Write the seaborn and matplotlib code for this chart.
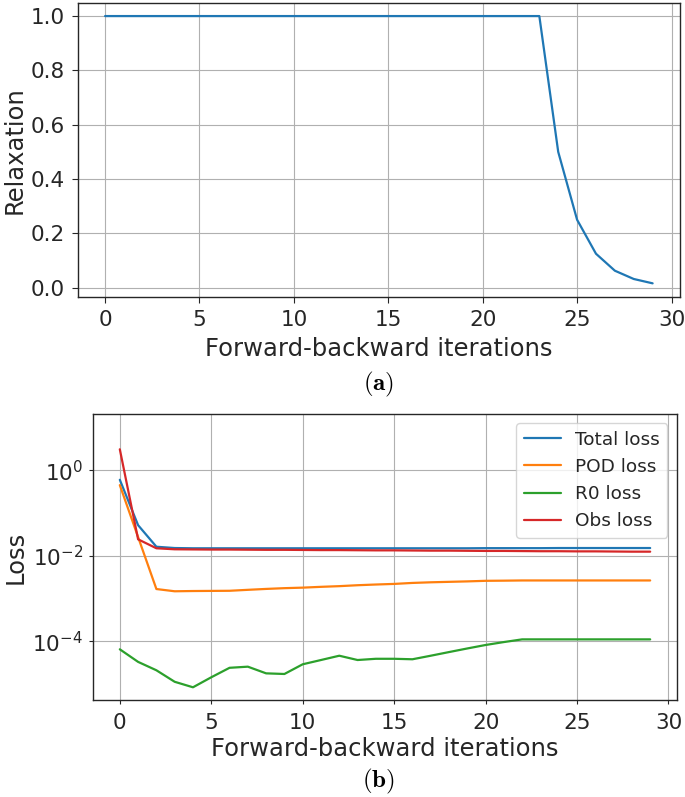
import numpy as np
import pandas as pd
import matplotlib
matplotlib.use("Agg")
import matplotlib.pyplot as plt
import matplotlib.ticker as mticker
import seaborn as sns

# ---------------- data ----------------
iterations = list(range(30))

relaxation = [1.0, 1.0, 1.0, 1.0, 1.0, 1.0, 1.0, 1.0, 1.0, 1.0,
              1.0, 1.0, 1.0, 1.0, 1.0, 1.0, 1.0, 1.0, 1.0, 1.0,
              1.0, 1.0, 1.0, 1.0, 0.5, 0.25, 0.125, 0.0625, 0.032, 0.016]

total_loss = [0.6, 0.052, 0.0163, 0.0152, 0.015, 0.015, 0.015, 0.015, 0.015, 0.015,
              0.015, 0.015, 0.015, 0.015, 0.015, 0.015, 0.015, 0.015, 0.015, 0.015,
              0.0151, 0.0151, 0.0151, 0.0151, 0.0152, 0.0152, 0.0152, 0.0152, 0.0152, 0.0152]

pod_loss = [0.45, 0.0274, 0.00167, 0.00148, 0.0015, 0.00151, 0.00152, 0.0016, 0.00168, 0.00175,
            0.0018, 0.00188, 0.00195, 0.00205, 0.00213, 0.0022, 0.00232, 0.0024, 0.00246, 0.00252,
            0.0026, 0.00262, 0.00265, 0.00265, 0.00265, 0.00265, 0.00265, 0.00265, 0.00265, 0.00265]

r0_loss = [6.5e-5, 3.3e-5, 2.1e-5, 1.13e-5, 8.4e-6, 1.44e-5, 2.4e-5, 2.55e-5, 1.78e-5, 1.72e-5,
           2.9e-5, 3.65e-5, 4.6e-5, 3.65e-5, 3.9e-5, 3.9e-5, 3.8e-5, 4.6e-5, 5.6e-5, 6.8e-5,
           8.2e-5, 9.6e-5, 1.11e-4, 1.11e-4, 1.11e-4, 1.11e-4, 1.11e-4, 1.11e-4, 1.11e-4, 1.11e-4]

obs_loss = [3.1, 0.0243, 0.015, 0.0142, 0.0141, 0.014, 0.014, 0.0139, 0.0138, 0.0138,
            0.0137, 0.0136, 0.0136, 0.0135, 0.0134, 0.0134, 0.0133, 0.0132, 0.0132, 0.0131,
            0.013, 0.013, 0.0129, 0.0128, 0.0128, 0.0127, 0.0127, 0.0126, 0.0125, 0.0125]

loss_labels = ["Total loss", "POD loss", "R0 loss", "Obs loss"]
x_ticks = [0, 5, 10, 15, 20, 25, 30]
relax_ticks = [0.0, 0.2, 0.4, 0.6, 0.8, 1.0]
loss_ticks = [1e-4, 1e-2, 1e0]

# ---------------- style ----------------
sns.set_theme(style="ticks")
plt.rcParams["font.family"] = ["DejaVu Sans"]
plt.rcParams["mathtext.fontset"] = "dejavusans"
colors = ["#1f77b4", "#ff7f0e", "#2ca02c", "#d62728"]
INK = "#262626"

W, H = 685, 797
fig = plt.figure(figsize=(W / 100, H / 100), dpi=100)


def px_axes(l, t, r, b):
    return fig.add_axes([l / W, 1 - b / H, (r - l) / W, (b - t) / H])


def style_axis(ax, tlen, xpad, ypad):
    ax.grid(True, color="#b0b0b0", linewidth=0.8)
    ax.set_axisbelow(True)
    for s in ax.spines.values():
        s.set_color(INK)
        s.set_linewidth(1.0)
    ax.tick_params(axis="both", which="major", labelsize=15.5, length=tlen,
                   width=0.8, color=INK, labelcolor=INK, direction="out")
    ax.tick_params(axis="x", pad=xpad)
    ax.tick_params(axis="y", pad=ypad)


# ---------------- top panel ----------------
ax1 = px_axes(77.7, 2.7, 680, 296.7)
df1 = pd.DataFrame({"it": iterations, "relax": relaxation})
sns.lineplot(data=df1, x="it", y="relax", ax=ax1, color=colors[0], linewidth=1.6)
ax1.set_xlim(-1.45, 30.45)
ax1.set_xticks(x_ticks)
ax1.set_yticks(relax_ticks)
ax1.yaxis.set_major_formatter(mticker.FormatStrFormatter("%.1f"))
ax1.set_xlabel("Forward-backward iterations", fontsize=17.5, color=INK, labelpad=5)
ax1.set_ylabel("Relaxation", fontsize=17.5, color=INK)
ax1.yaxis.set_label_coords(-0.084, 0.5)
style_axis(ax1, 4.3, 5.0, 5.0)

# ---------------- bottom panel ----------------
ax2 = px_axes(93.3, 414, 676.7, 700.3)
series = [total_loss, pod_loss, r0_loss, obs_loss]
for vals, lab, col in zip(series, loss_labels, colors):
    sns.lineplot(x=iterations, y=vals, ax=ax2, color=col, linewidth=1.6, label=lab)
ax2.set_yscale("log")
ax2.set_xlim(-1.45, 30.45)
ax2.set_ylim(10 ** -5.38, 10 ** 1.317)
ax2.set_xticks(x_ticks)
ax2.yaxis.set_major_locator(mticker.FixedLocator(loss_ticks))
ax2.yaxis.set_major_formatter(mticker.LogFormatterSciNotation())
ax2.yaxis.set_minor_locator(mticker.NullLocator())
ax2.set_xlabel("Forward-backward iterations", fontsize=17.5, color=INK, labelpad=3)
ax2.set_ylabel("Loss", fontsize=17.5, color=INK)
ax2.yaxis.set_label_coords(-0.113, 0.5)
style_axis(ax2, 3.0, 6.0, 4.3)
leg = ax2.legend(loc="upper right", fontsize=13.3, frameon=True, fancybox=True,
                 framealpha=0.8, edgecolor="#cccccc", handlelength=2.0)
for t in leg.get_texts():
    t.set_color(INK)

# ---------------- sub-captions ----------------
fig.text(0.5 * (77.7 + 680) / W, 1 - 384 / H, r"$\mathbf{(a)}$", ha="center", va="center",
         fontsize=18, math_fontfamily="cm", color="black")
fig.text(0.5 * (77.7 + 680) / W, 1 - 781 / H, r"$\mathbf{(b)}$", ha="center", va="center",
         fontsize=18, math_fontfamily="cm", color="black")

fig.savefig("out.png", dpi=100)
